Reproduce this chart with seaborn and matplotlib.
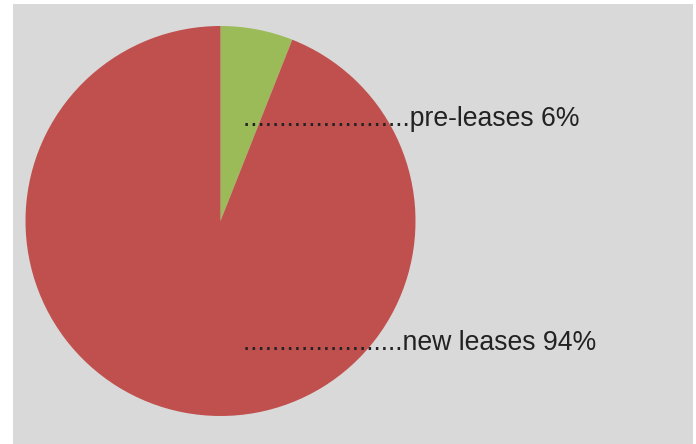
import matplotlib
matplotlib.use("Agg")
import matplotlib.pyplot as plt
import seaborn as sns

categories = ["pre-leases", "new leases"]
values = [6, 94]
colors = ["#9bbb59", "#c0504d"]
label_y_px = [119, 343]
leader_dots = [23, 22]

sns.set_theme(style="white")
plt.rcParams['font.family'] = ['Liberation Sans', 'DejaVu Sans']

W, H = 696, 444
fig = plt.figure(figsize=(W / 100, H / 100), dpi=100, facecolor="white")

# grey background panel
bg = fig.add_axes([13 / W, 0, (693 - 13) / W, (H - 4) / H])
bg.set_facecolor("#d9d9d9")
bg.set_xticks([]); bg.set_yticks([])
for s in bg.spines.values():
    s.set_visible(False)

cx, cy, r = 220.5, 221, 195
ax = fig.add_axes([(cx - r) / W, (H - cy - r) / H, 2 * r / W, 2 * r / H])
ax.set_facecolor("none")
ax.pie(values, colors=colors, startangle=90, counterclock=False, radius=1,
       wedgeprops=dict(linewidth=0))
ax.set_xlim(-1, 1); ax.set_ylim(-1, 1)
ax.set_aspect("auto")
ax.axis("off")

for cat, v, ypx, nd in zip(categories, values, label_y_px, leader_dots):
    fig.text(243 / W, (H - ypx) / H, "." * nd + f"{cat} {v}%",
             fontsize=19.2, color="#222222", va="center", ha="left")

fig.savefig("out.png", dpi=100, facecolor="white")
